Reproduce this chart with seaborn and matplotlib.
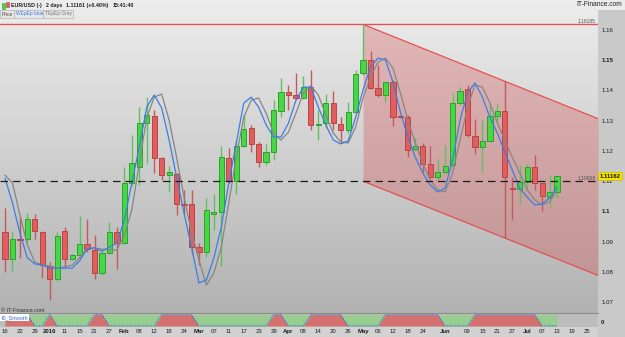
import numpy as np
import pandas as pd
import matplotlib
matplotlib.use("Agg")
import matplotlib.pyplot as plt
import matplotlib.transforms as mtransforms
from matplotlib.colors import LinearSegmentedColormap
from matplotlib.patches import Rectangle
import seaborn as sns

sns.set_theme(style="white")
plt.rcParams['font.family'] = ['Liberation Sans', 'DejaVu Sans']

# ---------------- data (EUR/USD, 2-day candles) ----------------
opens = [1.0933, 1.0841, 1.0908, 1.0907, 1.0974, 1.0933, 1.0820, 1.0775, 1.0936, 1.0841,
         1.0855, 1.0891, 1.0872, 1.0795, 1.0861, 1.0933, 1.0894, 1.1093, 1.1146, 1.1291,
         1.1316, 1.1175, 1.1120, 1.1123, 1.1023, 1.1023, 1.0883, 1.0866, 1.0990, 1.0999,
         1.1175, 1.1100, 1.1216, 1.1275, 1.1222, 1.1164, 1.1197, 1.1333, 1.1394, 1.1385,
         1.1374, 1.1412, 1.1285, 1.1293, 1.1358, 1.1289, 1.1269, 1.1328, 1.1457, 1.1501,
         1.1407, 1.1385, 1.1427, 1.1316, 1.1313, 1.1205, 1.1217, 1.1156, 1.1113, 1.1131,
         1.1153, 1.1358, 1.1404, 1.1249, 1.1212, 1.1232, 1.1316, 1.1332, 1.1076, 1.1073,
         1.1098, 1.1146, 1.1093, 1.1048, 1.1063]
highs = [1.1012, 1.0936, 1.0982, 1.0994, 1.0990, 1.0935, 1.0833, 1.0933, 1.0949, 1.0859,
         1.0985, 1.0974, 1.0922, 1.0874, 1.0966, 1.0949, 1.1146, 1.1253, 1.1346, 1.1379,
         1.1335, 1.1180, 1.1150, 1.1128, 1.1071, 1.1071, 1.0894, 1.1043, 1.1057, 1.1217,
         1.1209, 1.1236, 1.1319, 1.1286, 1.1229, 1.1222, 1.1368, 1.1440, 1.1418, 1.1457,
         1.1448, 1.1468, 1.1335, 1.1388, 1.1399, 1.1311, 1.1363, 1.1468, 1.16185, 1.1532,
         1.1484, 1.1428, 1.1435, 1.1319, 1.1319, 1.1245, 1.1227, 1.1217, 1.1172, 1.1220,
         1.1391, 1.1412, 1.1418, 1.1305, 1.1302, 1.1352, 1.1355, 1.1432, 1.1115, 1.1153,
         1.1157, 1.1186, 1.1094, 1.1120, 1.1120]
lows = [1.0800, 1.0803, 1.0846, 1.0894, 1.0907, 1.0778, 1.0707, 1.0770, 1.0817, 1.0838,
        1.0845, 1.0866, 1.0775, 1.0789, 1.0859, 1.0808, 1.0893, 1.1084, 1.1087, 1.1161,
        1.1128, 1.1104, 1.1065, 1.0988, 1.0988, 1.0858, 1.0822, 1.0850, 1.0938, 1.0819,
        1.1094, 1.1057, 1.1213, 1.1197, 1.1146, 1.1153, 1.1170, 1.1313, 1.1335, 1.1368,
        1.1371, 1.1269, 1.1236, 1.1275, 1.1269, 1.1230, 1.1258, 1.1325, 1.1451, 1.1406,
        1.1377, 1.1363, 1.1282, 1.1309, 1.1181, 1.1199, 1.1131, 1.1109, 1.1104, 1.1127,
        1.1147, 1.1352, 1.1247, 1.1189, 1.1131, 1.1229, 1.1291, 1.0911, 1.0971, 1.1024,
        1.1073, 1.1071, 1.1002, 1.1015, 1.1043]
closes = [1.0841, 1.0907, 1.0904, 1.0974, 1.0936, 1.0822, 1.0775, 1.0918, 1.0841, 1.0855,
          1.0891, 1.0874, 1.0795, 1.0861, 1.0933, 1.0894, 1.1093, 1.1159, 1.1291, 1.1319,
          1.1175, 1.1120, 1.1129, 1.1023, 1.1021, 1.0883, 1.0866, 1.1004, 1.0999, 1.1179,
          1.1100, 1.1216, 1.1271, 1.1222, 1.1164, 1.1197, 1.1335, 1.1394, 1.1385, 1.1374,
          1.1412, 1.1286, 1.1287, 1.1358, 1.1291, 1.1269, 1.1328, 1.1454, 1.1501, 1.1407,
          1.1385, 1.1427, 1.1311, 1.1311, 1.1203, 1.1217, 1.1157, 1.1115, 1.1131, 1.1151,
          1.1358, 1.1399, 1.1252, 1.1212, 1.1232, 1.1316, 1.1332, 1.1115, 1.1074, 1.1098,
          1.1146, 1.1093, 1.1051, 1.1063, 1.11161]
wep_blue = [1.1110, 1.1028, 1.0928, 1.0846, 1.0826, 1.0822, 1.0812, 1.0812, 1.0812, 1.0812,
            1.0836, 1.0875, 1.0879, 1.0868, 1.0882, 1.0895, 1.0971, 1.1094, 1.1213, 1.1345,
            1.1385, 1.1342, 1.1236, 1.1114, 1.0994, 1.0882, 1.0763, 1.0773, 1.0846, 1.0948,
            1.1094, 1.1226, 1.1358, 1.1378, 1.1345, 1.1286, 1.1246, 1.1246, 1.1292, 1.1368,
            1.1411, 1.1411, 1.1345, 1.1286, 1.1236, 1.1223, 1.1233, 1.1311, 1.1402, 1.1478,
            1.1507, 1.1501, 1.1428, 1.1329, 1.1246, 1.1179, 1.1127, 1.1087, 1.1064, 1.1077,
            1.1170, 1.1302, 1.1392, 1.1425, 1.1378, 1.1311, 1.1259, 1.1196, 1.1137, 1.1077,
            1.1047, 1.1021, 1.1024, 1.1044, 1.1080]
tep_grey = [1.1120, 1.1094, 1.0988, 1.0889, 1.0832, 1.0822, 1.0819, 1.0812, 1.0816, 1.0822,
            1.0846, 1.0879, 1.0879, 1.0875, 1.0872, 1.0872, 1.0921, 1.1004, 1.1159, 1.1309,
            1.1378, 1.1388, 1.1302, 1.1179, 1.1047, 1.0932, 1.0839, 1.0756, 1.0796, 1.0882,
            1.1028, 1.1179, 1.1311, 1.1368, 1.1375, 1.1325, 1.1259, 1.1236, 1.1262, 1.1325,
            1.1392, 1.1415, 1.1385, 1.1319, 1.1259, 1.1230, 1.1226, 1.1279, 1.1375, 1.1445,
            1.1494, 1.1507, 1.1474, 1.1392, 1.1302, 1.1226, 1.1159, 1.1104, 1.1071, 1.1064,
            1.1127, 1.1236, 1.1345, 1.1418, 1.1411, 1.1358, 1.1292, 1.1236, 1.1179, 1.1127,
            1.1071, 1.1038, 1.1021, 1.1031, 1.1071]
i0_smooth = [1, 1, 1, 1, 0, 0, 1, 0, 0, 0,
             0, 0, 1, 1, 0, 0, 0, 0, 0, 0,
             0, 1, 1, 1, 1, 1, 0, 0, 0, 0,
             0, 0, 0, 0, 0, 0, 1, 1, 0, 0,
             0, 1, 1, 1, 1, 1, 0, 0, 0, 0,
             0, 1, 1, 1, 1, 1, 1, 1, 1, 0,
             0, 0, 0, 1, 1, 1, 1, 1, 1, 1,
             1, 1, 0, 0, 0]
x_tick_pos = [0, 2, 4, 6, 8, 10, 12, 14, 16, 18, 20, 22, 24, 26, 28, 30, 32, 34, 36, 38,
              40, 42, 44, 46, 48, 50, 52, 54, 56, 59, 62, 64, 66, 68, 70, 72, 74, 76, 78]
x_tick_labels = ['16', '22', '29', '2016', '11', '15', '21', '27', 'Feb', '08', '12', '18', '24',
                 'Mar', '07', '11', '17', '23', '29', 'Apr', '08', '14', '20', '26', 'May', '06',
                 '12', '18', '24', 'Jun', '09', '15', '21', '27', 'Jul', '07', '13', '19', '25']
bold_labels = ['2016', 'Feb', 'Mar', 'Apr', 'May', 'Jun', 'Jul']
y_ticks = [1.16, 1.15, 1.14, 1.13, 1.12, 1.11, 1.10, 1.09, 1.08, 1.07]
y_tick_labels = ['1.16', '1.15', '1.14', '1.13', '1.12', '1.11', '1.1', '1.09', '1.08', '1.07']
top_level = 1.16185
mid_level = 1.10998
last_price = 1.11162
channel_start = 48
channel_upper = 1.16185
channel_lower = 1.10998
channel_slope = -0.00099

# ---------------- figure / layout ----------------
W, H = 625, 337
fig = plt.figure(figsize=(W / 100, H / 100), dpi=100, facecolor='#d2d2d2')


def fx(px):
    return px / W


def fy(py):
    return 1 - py / H


XMIN, XMAX = -0.67, 79.49
YMIN, YMAX = 1.06636, 1.16993

ax = fig.add_axes([0, fy(313), fx(598), 313 / H])
ax2 = fig.add_axes([0, fy(327), fx(598), 14 / H])

# right price strip and top-right corner
fig.patches.append(Rectangle((fx(598), 0), 1 - fx(598), fy(10), transform=fig.transFigure,
                             facecolor='#c9c9c9', edgecolor='none', zorder=-2))
fig.patches.append(Rectangle((fx(598), fy(10)), 1 - fx(598), 10 / H, transform=fig.transFigure,
                             facecolor='#ececec', edgecolor='none', zorder=-2))

# background gradient
grad = np.linspace(0, 1, 256).reshape(-1, 1)
cmap = LinearSegmentedColormap.from_list('bg', ['#b2b2b2', '#ededed'])
ax.imshow(grad, extent=[XMIN, XMAX, YMIN, YMAX], origin='lower', aspect='auto',
          cmap=cmap, zorder=0, interpolation='bilinear')

# regression channel
cx = np.array([channel_start, XMAX])
upper = channel_upper + channel_slope * (cx - channel_start)
lower = channel_lower + channel_slope * (cx - channel_start)
ax.fill_between(cx, lower, upper, color='#d64545', alpha=0.30, lw=0, zorder=1)
ax.plot(cx, upper, color='#e35252', lw=0.9, zorder=2)
ax.plot(cx, lower, color='#e35252', lw=0.9, zorder=2)

ax.axhline(top_level, color='#e35252', lw=1.0, zorder=2)

# candles
idx = np.arange(len(opens))
o = np.array(opens)
h = np.array(highs)
l = np.array(lows)
c = np.array(closes)
up = c >= o
body_lo = np.minimum(o, c)
body_h = np.maximum(np.abs(c - o), 0.00025)
face = np.where(up, '#46d646', '#e25e5e')
edge = np.where(up, '#2ca22c', '#b94444')
wick = np.where(up, '#62c062', '#c65a5a')
ax.vlines(idx, l, h, colors=list(wick), lw=1.0, zorder=3)
ax.bar(idx, body_h, bottom=body_lo, width=0.7, color=list(face), edgecolor=list(edge),
       linewidth=0.7, zorder=4)

# smoothing lines
df = pd.DataFrame({'i': idx, 'blue': wep_blue, 'grey': tep_grey})
sns.lineplot(data=df, x='i', y='grey', color='#868686', lw=0.9, ax=ax, zorder=5)
sns.lineplot(data=df, x='i', y='blue', color='#3c7ee2', lw=0.9, ax=ax, zorder=5)

ax.axhline(mid_level, color='#1c1c1c', lw=0.9, dashes=(6, 4), zorder=6)

ax.set_xlim(XMIN, XMAX)
ax.set_ylim(YMIN, YMAX)
ax.set_xlabel('')
ax.set_ylabel('')
ax.set_xticks([])
ax.yaxis.tick_right()
ax.set_yticks(y_ticks)
ax.set_yticklabels(y_tick_labels, fontsize=4.4, color='#1e1e1e')
ax.tick_params(axis='y', length=0, pad=2.5)
for lab in ax.get_yticklabels():
    if lab.get_text() in ('1.15', '1.1'):
        lab.set_fontweight('bold')
for s in ax.spines.values():
    s.set_visible(False)

# level labels
ax.text(76.8, top_level, '1.16185', fontsize=3.6, color='#555555', va='bottom', ha='left', zorder=7)
ax.text(76.8, mid_level, '1.10998', fontsize=3.6, color='#555555', va='bottom', ha='left', zorder=7)

btr = mtransforms.blended_transform_factory(ax.transAxes, ax.transData)
ax.text(1.003, last_price, '1.11162', transform=btr, fontsize=4.3, fontweight='bold',
        color='#111111', va='center', ha='left', clip_on=False, zorder=8,
        bbox=dict(boxstyle='square,pad=0.25', facecolor='#f5e400', edgecolor='#c8b800', lw=0.5))

# indicator panel
ind = np.array(i0_smooth, dtype=float)
ax2.set_facecolor('#bdbdbd')
ax2.fill_between(idx, 0, ind, color='#d4706e', lw=0, zorder=1)
ax2.fill_between(idx, ind, 1, color='#97ce8f', lw=0, zorder=1)
ax2.plot(idx, ind, color='#2f6fe0', lw=0.8, ls=(0, (1.2, 1.2)), zorder=2)
ax2.set_xlim(XMIN, XMAX)
ax2.set_ylim(-0.1, 1.15)
ax2.set_yticks([])
ax2.set_xticks(x_tick_pos)
ax2.set_xticklabels(x_tick_labels, fontsize=4.3, color='#1e1e1e')
ax2.tick_params(axis='x', length=0, pad=1.6)
for lab in ax2.get_xticklabels():
    if lab.get_text() in bold_labels:
        lab.set_fontweight('bold')
for name, s in ax2.spines.items():
    if name == 'top':
        s.set_color('#8c8c8c')
        s.set_linewidth(0.8)
    else:
        s.set_visible(False)

fig.text(fx(601), fy(323), '0', fontsize=4.4, fontweight='bold', color='#1e1e1e', va='center')
fig.text(fx(1), fy(317.5), 'I0_Smooth', fontsize=4.0, color='#2a6ad8', va='center', ha='left',
         bbox=dict(boxstyle='square,pad=0.2', facecolor='white', edgecolor='none'))
fig.text(fx(1), fy(310), '\u00a9 IT-Finance.com', fontsize=4.0, color='#333333', va='center')

# header
fig.patches.append(Rectangle((fx(2), fy(9)), 3 / W, 6 / H, transform=fig.transFigure,
                             facecolor='#46d646', edgecolor='#2ca22c', lw=0.4))
fig.patches.append(Rectangle((fx(5.5), fy(7)), 3 / W, 5 / H, transform=fig.transFigure,
                             facecolor='#e25e5e', edgecolor='#b94444', lw=0.4))
fig.text(fx(11), fy(5.5), 'EUR/USD (-)', fontsize=3.8, fontweight='bold', color='#202020', va='center')
fig.text(fx(46), fy(5.5), '2 days', fontsize=3.8, fontweight='bold', color='#202020', va='center')
fig.text(fx(66), fy(5.5), '1.11161 (+0.40%)', fontsize=3.8, fontweight='bold', color='#202020', va='center')
fig.text(fx(113), fy(5.5), '15:41:40', fontsize=3.8, fontweight='bold', color='#202020', va='center')

for x0, x1 in [(0, 14), (14, 43), (43, 73)]:
    fig.patches.append(Rectangle((fx(x0), fy(18)), (x1 - x0) / W, 8 / H, transform=fig.transFigure,
                                 facecolor='#e6e6e6', edgecolor='#b4b4b4', lw=0.5))
fig.text(fx(2), fy(14), 'Price', fontsize=3.5, color='#444444', va='center')
fig.text(fx(15.5), fy(14), 'WEpEp blue', fontsize=3.5, color='#3c7ee2', va='center')
fig.text(fx(45), fy(14), 'TEpEp Grey', fontsize=3.5, color='#777777', va='center')

fig.text(fx(622), fy(5), 'IT-Finance.com', fontsize=4.8, color='#222222', va='center', ha='right')

fig.savefig('out.png', dpi=100, facecolor=fig.get_facecolor())
